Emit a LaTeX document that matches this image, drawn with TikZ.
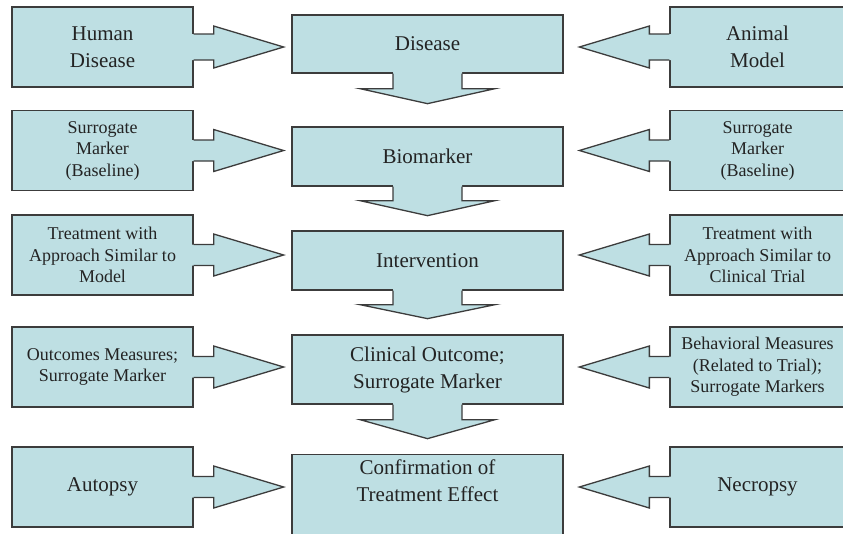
\documentclass[tikz,border=0pt]{standalone}
\usepackage{fontspec}
\setmainfont{Liberation Serif}
\usetikzlibrary{positioning,calc}
\definecolor{boxfill}{RGB}{190,223,227}
\definecolor{boxline}{RGB}{60,60,60}
\definecolor{boxtext}{RGB}{35,35,35}
\tikzset{panel/.style={rectangle, fill=boxfill, draw=boxline, line width=1.3pt, text=boxtext, align=center, inner sep=0pt},
  sidebox/.style={panel, minimum width=181pt, minimum height=80pt},
  rsidebox/.style={panel, minimum width=175pt, minimum height=80pt},
  mainbox/.style={panel, minimum width=271pt},
  bigtxt/.style={font=\fontsize{21}{27}\selectfont},
  smalltxt/.style={font=\fontsize{18}{21.5}\selectfont},
  arrfill/.style={fill=boxfill},
  arrline/.style={draw=boxline, line width=1.3pt, line join=miter}}
% block arrows glued to a box: #1 box, #2 stem half width
\newcommand{\flowright}[2]{%
  \begin{scope}[shift={(#1.east)}]
    \fill[arrfill] (-1.5,-#2) -- (20,-#2) -- (20,-21) -- (90,0) -- (20,21) -- (20,#2) -- (-1.5,#2) -- cycle;
    \draw[arrline] (0,-#2) -- (20,-#2) -- (20,-21) -- (90,0) -- (20,21) -- (20,#2) -- (0,#2);
  \end{scope}}
\newcommand{\flowleft}[2]{%
  \begin{scope}[shift={(#1.west)}, xscale=-1]
    \fill[arrfill] (-1.5,-#2) -- (20,-#2) -- (20,-21) -- (90,0) -- (20,21) -- (20,#2) -- (-1.5,#2) -- cycle;
    \draw[arrline] (0,-#2) -- (20,-#2) -- (20,-21) -- (90,0) -- (20,21) -- (20,#2) -- (0,#2);
  \end{scope}}
% #1 box, #2 stem length, #3 head length
\newcommand{\flowdown}[3]{%
  \begin{scope}[shift={(#1.south)}]
    \fill[arrfill] (-34.5,-1.5) -- (-34.5,#2) -- (-67.5,#2) -- (0,{#2+#3}) -- (67.5,#2) -- (34.5,#2) -- (34.5,-1.5) -- cycle;
    \draw[arrline] (-34.5,0) -- (-34.5,#2) -- (-67.5,#2) -- (0,{#2+#3}) -- (67.5,#2) -- (34.5,#2) -- (34.5,0);
  \end{scope}}

\begin{document}
\begin{tikzpicture}[x=1pt, y=-1pt]
\useasboundingbox (0,0) rectangle (843,533);
\clip (0,0) rectangle (843,533);

% human side
\node[sidebox, bigtxt] (hum) at (102.5,47) {Human\\Disease};
\node[sidebox, smalltxt] (hbase) at (102.5,150.5) {Surrogate\\Marker\\(Baseline)};
\node[sidebox, smalltxt] (htreat) at (102.5,255) {Treatment with\\Approach Similar to\\Model};
\node[sidebox, smalltxt] (hout) at (102.5,367) {Outcomes Measures;\\Surrogate Marker};
\node[sidebox, bigtxt] (aut) at (102.5,487) {Autopsy};

% animal side
\node[rsidebox, bigtxt] (ani) at (757.5,47) {Animal\\Model};
\node[rsidebox, smalltxt] (abase) at (757.5,150.5) {Surrogate\\Marker\\(Baseline)};
\node[rsidebox, smalltxt] (atreat) at (757.5,255) {Treatment with\\Approach Similar to\\Clinical Trial};
\node[rsidebox, smalltxt] (aout) at (757.5,367) {Behavioral Measures\\(Related to Trial);\\Surrogate Markers};
\node[rsidebox, bigtxt] (nec) at (757.5,487) {Necropsy};

% middle column
\node[mainbox, bigtxt, minimum height=58pt] (dis) at (427.5,44) {Disease};
\node[mainbox, bigtxt, minimum height=59pt] (bio) at (427.5,156.5) {Biomarker};
\node[mainbox, bigtxt, minimum height=59pt] (int) at (427.5,260.5) {Intervention};
\node[mainbox, bigtxt, minimum height=69pt] (clin) at (427.5,369.5) {Clinical Outcome;\\Surrogate Marker};
\node[mainbox, minimum height=100pt, anchor=north] (conf) at (427.5,454) {};
\node[bigtxt, text=boxtext, align=center] (conftxt) at (427.5,481) {Confirmation of\\Treatment Effect};

\flowright{hum}{13}
\flowright{hbase}{10.5}
\flowright{htreat}{10.5}
\flowright{hout}{10.5}
\flowright{aut}{10.5}

\flowleft{ani}{13}
\flowleft{abase}{10.5}
\flowleft{atreat}{10.5}
\flowleft{aout}{10.5}
\flowleft{nec}{10.5}

\flowdown{dis}{15}{15}
\flowdown{bio}{14}{15}
\flowdown{int}{14}{14}
\flowdown{clin}{15}{19}
\end{tikzpicture}
\end{document}
